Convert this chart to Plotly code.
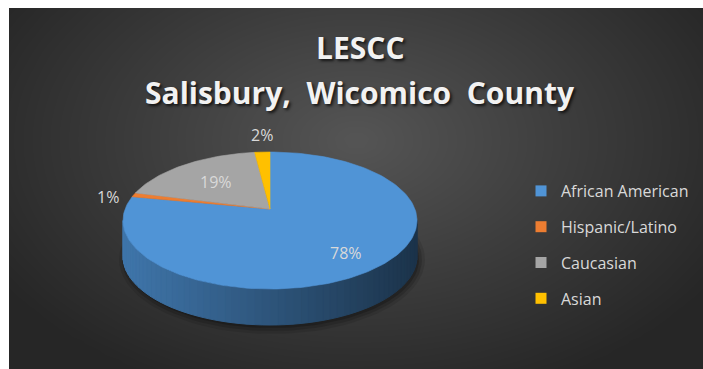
import math
import numpy as np
import plotly.graph_objects as go

# ---- data ----
categories = ["African American", "Hispanic/Latino", "Caucasian", "Asian"]
values = [78, 1, 19, 2]
colors = ["#5094d6", "#ed7d31", "#a5a5a5", "#ffc000"]
title_lines = ["LESCC", "Salisbury,  Wicomico  County"]

# ---- layout constants (pixels) ----
W, H = 703, 369
LEFT, TOP = 9, 8
cx, cy = 270, 220.5      # centre of top ellipse
rx, ry = 147, 68.5       # radii of top ellipse
vx, vy = 270, 209        # projected pie centre (perspective)
depth = 36
FONT = "Open Sans"
TXT = "#d9d9d9"


def hex2rgb(h):
    h = h.lstrip("#")
    return tuple(int(h[i:i + 2], 16) for i in (0, 2, 4))


def shade(h, f):
    r, g, b = hex2rgb(h)
    return "rgb(%d,%d,%d)" % (r * f, g * f, b * f)


def ray_phi(theta):
    """angle theta (clockwise from top) -> ellipse parameter of boundary point"""
    dx, dy = math.sin(theta) * rx, -math.cos(theta) * ry
    a = (dx / rx) ** 2 + (dy / ry) ** 2
    b = 2 * ((vx - cx) * dx / rx ** 2 + (vy - cy) * dy / ry ** 2)
    c = ((vx - cx) / rx) ** 2 + ((vy - cy) / ry) ** 2 - 1
    t = (-b + math.sqrt(b * b - 4 * a * c)) / (2 * a)
    x, y = vx + t * dx, vy + t * dy
    phi = math.atan2((x - cx) / rx, -(y - cy) / ry)
    if phi < 0:
        phi += 2 * math.pi
    return phi


def ell(phi, dy=0.0):
    return cx + rx * math.sin(phi), cy - ry * math.cos(phi) + dy


fig = go.Figure()

# background radial gradient
gx = np.linspace(LEFT, W, 60)
gy = np.linspace(TOP, H, 40)
GX, GY = np.meshgrid(gx, gy)
D = np.sqrt(((GX - 356) / 420) ** 2 + ((GY - 140) / 270) ** 2)
D = np.clip(D, 0, 1)
fig.add_trace(go.Heatmap(x=gx, y=gy, z=D, zmin=0, zmax=1, zsmooth="best",
                         colorscale=[[0, "#555555"], [0.5, "#3d3d3d"], [1, "#262626"]],
                         showscale=False, hoverinfo="skip"))

total = sum(values)
bounds = [0]
for v in values:
    bounds.append(bounds[-1] + v / total * 2 * math.pi)
phis = [ray_phi(b) for b in bounds[:-1]] + [2 * math.pi]
phis[0] = 0.0

# soft shadow under pie
for k, a in [(6, 0.10), (3, 0.15), (0, 0.2)]:
    ts = np.linspace(0, 2 * math.pi, 120)
    xs = [cx + 2 + (rx + k) * math.sin(t) for t in ts]
    ys = [cy + depth + 3 - (ry + k) * math.cos(t) for t in ts]
    fig.add_trace(go.Scatter(x=xs, y=ys, fill="toself", mode="lines",
                             line=dict(width=0), fillcolor="rgba(0,0,0,%g)" % a,
                             hoverinfo="skip", showlegend=False))

# side wall (front half: phi in [pi/2, 3pi/2])
step = math.radians(3)
for i in range(len(values)):
    p0 = max(phis[i], math.pi / 2)
    p1 = min(phis[i + 1], 3 * math.pi / 2)
    p = p0
    while p < p1 - 1e-9:
        q = min(p + step, p1)
        xm = ell((p + q) / 2)[0]
        frac = (xm - (cx - rx)) / (2 * rx)
        f = 0.80 - 0.45 * frac
        col = shade(colors[i], f)
        pts = [ell(p), ell(q), ell(q, depth), ell(p, depth)]
        xs = [pt[0] for pt in pts] + [pts[0][0]]
        ys = [pt[1] for pt in pts] + [pts[0][1]]
        fig.add_trace(go.Scatter(x=xs, y=ys, fill="toself", mode="lines",
                                 line=dict(width=1, color=col), fillcolor=col,
                                 hoverinfo="skip", showlegend=False))
        p = q

# top slices
for i in range(len(values)):
    n = max(4, int((phis[i + 1] - phis[i]) / math.radians(1.5)))
    ps = np.linspace(phis[i], phis[i + 1], n)
    xs = [vx] + [ell(p)[0] for p in ps] + [vx]
    ys = [vy] + [ell(p)[1] for p in ps] + [vy]
    fig.add_trace(go.Scatter(x=xs, y=ys, fill="toself", mode="lines",
                             line=dict(width=0.6, color=colors[i]), fillcolor=colors[i],
                             hoverinfo="skip", showlegend=False))

# data labels
for i, v in enumerate(values):
    mid = (bounds[i] + bounds[i + 1]) / 2
    dx, dy = math.sin(mid) * rx, -math.cos(mid) * ry
    if v / total >= 0.05:
        k, ox, oy = 0.68, 12, 8
    else:
        k, ox, oy = 1.15, 3, 5
    fig.add_annotation(x=vx + k * dx + ox, y=vy + k * dy + oy,
                       text="%d%%" % round(v / total * 100), showarrow=False,
                       font=dict(family=FONT, size=16, color=TXT))

# legend entries
for i, c in enumerate(categories):
    fig.add_trace(go.Scatter(x=[None], y=[None], mode="markers", name=c,
                             legendgroup=c,
                             marker=dict(symbol="square", size=11, color=colors[i])))

# title
for j, (line, yy) in enumerate(zip(title_lines, [47, 92])):
    fig.add_annotation(x=360, y=yy, text="<b>%s</b>" % line, showarrow=False,
                       font=dict(family=FONT, size=30, color="#f2f2f2",
                                 shadow="2px 2px 3px rgba(0,0,0,0.7)"))

fig.update_layout(
    width=W, height=H, autosize=False,
    margin=dict(l=LEFT, t=TOP, r=0, b=0, pad=0),
    paper_bgcolor="white", plot_bgcolor="#333333",
    xaxis=dict(range=[LEFT, W], visible=False, fixedrange=True),
    yaxis=dict(range=[H, TOP], visible=False, fixedrange=True),
    showlegend=True,
    legend=dict(x=(521 - LEFT) / (W - LEFT), y=(H - 174) / (H - TOP),
                xanchor="left", yanchor="top", bgcolor="rgba(0,0,0,0)",
                font=dict(family=FONT, size=16, color=TXT),
                tracegroupgap=12, itemclick=False, itemdoubleclick=False),
    hovermode=False,
)

fig.write_html("out.html")
